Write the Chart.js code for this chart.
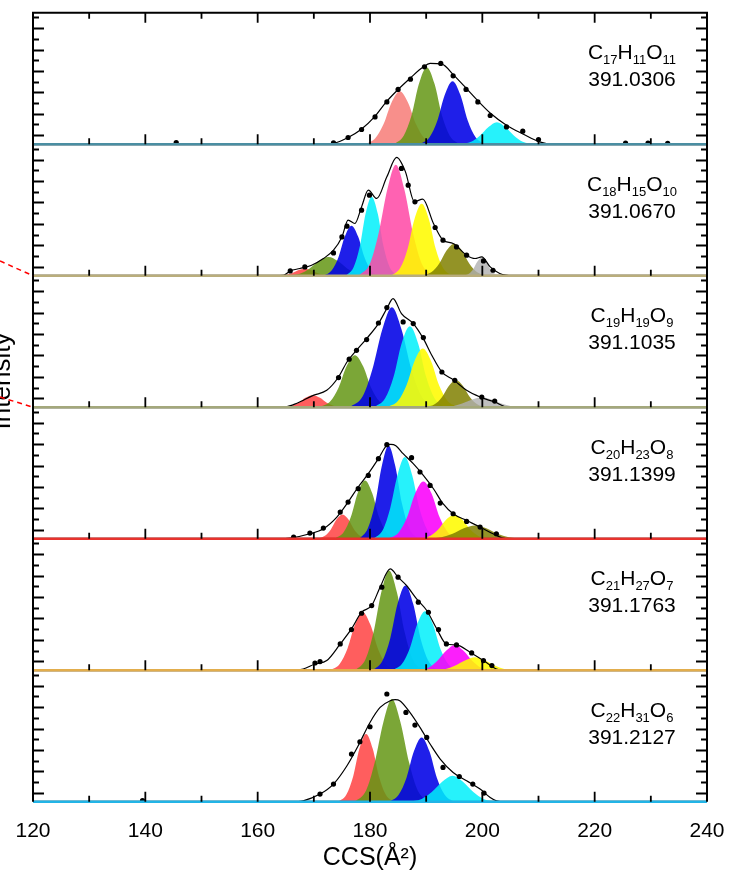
<!DOCTYPE html>
<html lang="en">
<head>
<meta charset="UTF-8" />
<title>CCS distributions</title>
<script src="https://cdn.jsdelivr.net/npm/chart.js"></script>
<style>
  html, body { margin: 0; padding: 0; background: #fff; }
  #wrap { width: 730px; height: 875px; }
</style>
</head>
<body>
<div id="wrap"><canvas id="ccs" width="730" height="875"></canvas></div>
<script>
// ---- labels of the six panels (top to bottom)
const formulas = [
  ["C", "17", "H", "11", "O", "11"],
  ["C", "18", "H", "15", "O", "10"],
  ["C", "19", "H", "19", "O", "9"],
  ["C", "20", "H", "23", "O", "8"],
  ["C", "21", "H", "27", "O", "7"],
  ["C", "22", "H", "31", "O", "6"]
];
const masses = ["391.0306", "391.0670", "391.1035", "391.1399", "391.1763", "391.2127"];

// inner tick marks on the intensity axes (same for every panel)
const yTicks = [9, 19.7, 30.4, 41.1, 51.8, 62.5, 73.2, 83.9, 94.6, 105.3, 116, 126.7];

// ---- panel 1  C17H11O11   [CCS, intensity]
const p1Env = [[120,0],[172.5,0],[173.5,0.7],[176.1,6.7],[178.4,14.7],[180.8,27.3],[182.9,42.3],[185.0,54.7],[187.1,65.7],[189.5,77.3],[190.7,80.7],[192.8,80],[194.9,69],[197.0,56.7],[199.1,44],[201.5,30.7],[204.3,19],[207.3,10],[210.2,2.3],[212.5,0],[240,0]];
const p1Dots = [[145.5,1.5],[173.5,1.3],[176.1,6.7],[178.5,14.7],[180.9,27.3],[183.0,42.3],[185.0,54.7],[187.2,65],[189.7,77.3],[192.6,80.7],[194.8,68.3],[197.1,54.7],[199.2,42.3],[201.4,28.7],[204.3,17.3],[207.2,13],[210.0,4.7],[225.5,1.2],[229.5,1.2],[233,0.8]];
const p1Salmon = [[179.0,0],[180.9,5.8],[182.4,19.9],[183.8,41.3],[185.3,53],[186.8,41.3],[188.2,19.9],[189.7,5.8],[191.6,0]];
const p1Green = [[184.3,0],[186.0,8.5],[187.4,28.9],[188.7,60.1],[190.1,77],[191.5,60.1],[192.8,28.9],[194.2,8.5],[195.9,0]];
const p1Blue = [[188.9,0],[190.6,6.9],[192.0,23.6],[193.3,49.1],[194.7,63],[196.1,49.1],[197.4,23.6],[198.8,6.9],[200.5,0]];
const p1Cyan = [[196.0,0],[198.0,2.4],[199.5,8.3],[201.1,17.2],[202.6,22],[204.1,17.2],[205.7,8.3],[207.2,2.4],[209.2,0]];

// ---- panel 2  C18H15O10
const p2Env = [[120,0],[163,0],[164.6,0.5],[165.8,4.8],[167.5,7.2],[169.6,10.5],[171.7,17.2],[173.5,25.5],[175.0,38.8],[176.1,55.5],[177.3,52.2],[178.5,68.8],[179.7,85.5],[181.2,77.2],[183.0,98.8],[184.75,118.2],[186.3,104],[187.9,74],[189.4,76.5],[191.3,52.2],[193.0,35.5],[194.8,32.2],[197.2,20.5],[198.7,17.2],[199.9,18.8],[201.4,8.8],[203.1,2.2],[205.4,0],[240,0]];
const p2Dots = [[165.8,4.8],[168.4,8.8],[173.5,22.8],[175.0,38.8],[175.9,49.5],[178.5,65.5],[179.9,80.5],[185.6,107.2],[186.8,90.5],[188.0,73.8],[191.6,48.2],[193.0,35.5],[195.4,28.8],[197.2,20.5],[200.2,14.8],[201.9,5.5]];
const p2Red = [[163.5,0],[164.9,0.8],[166.1,2.6],[167.2,5.5],[168.4,7],[169.6,5.5],[170.7,2.6],[171.9,0.8],[173.4,0]];
const p2Green = [[165.3,0],[167.5,2.1],[169.2,7.1],[170.9,14.7],[172.6,18.8],[174.3,14.7],[176.0,7.1],[177.7,2.1],[179.9,0]];
const p2Blue = [[171.8,0],[173.2,5.5],[174.4,18.8],[175.5,39],[176.7,50],[177.9,39],[179.0,18.8],[180.2,5.5],[181.7,0]];
const p2Cyan = [[175.7,0],[177.1,8.7],[178.2,29.6],[179.2,61.6],[180.3,79],[181.4,61.6],[182.4,29.6],[183.5,8.7],[184.9,0]];
const p2Pink = [[178.0,0],[180.0,12.2],[181.5,41.6],[183.1,86.6],[184.6,111],[186.1,86.6],[187.7,41.6],[189.2,12.2],[191.2,0]];
const p2Yellow = [[183.8,0],[185.4,7.9],[186.7,27],[187.9,56.2],[189.2,72],[190.5,56.2],[191.7,27],[193.0,7.9],[194.6,0]];
const p2Olive = [[189.2,0],[190.9,3.5],[192.3,12],[193.6,25],[195.0,32],[196.4,25],[197.7,12],[199.1,3.5],[200.8,0]];
const p2Gray = [[196.6,0],[197.6,2],[198.4,6.8],[199.1,14],[199.9,18],[200.7,14],[201.4,6.8],[202.2,2],[203.2,0]];

// ---- panel 3  C19H19O9
const p3Env = [[120,0],[163,0],[164.9,0.3],[167,4],[169.9,11.9],[172.3,16.9],[174.4,30.2],[175.9,45.2],[177.6,56.9],[179.4,68.6],[181.5,83.6],[183.0,98.6],[184.1,108.6],[185.6,93.6],[187.7,83.6],[189.5,68.6],[191.0,51.9],[192.8,35.2],[194.8,27.6],[197.2,16.9],[199.6,10.2],[202.2,5.2],[204.6,0],[240,0]];
const p3Dots = [[174.4,29.6],[176.3,48],[177.6,56.9],[179.4,67.6],[181.5,84.2],[183.0,99.6],[185.9,85.2],[187.7,83.6],[189.5,69.6],[192.8,35.2],[195.1,26.9],[199.9,10.2],[202.2,6.2]];
const p3Red = [[164.4,0],[166.0,1.3],[167.3,4.5],[168.5,9.4],[169.8,12],[171.1,9.4],[172.3,4.5],[173.6,1.3],[175.2,0]];
const p3Green = [[171.0,0],[172.9,5.7],[174.4,19.5],[175.8,40.6],[177.3,52],[178.8,40.6],[180.2,19.5],[181.7,5.7],[183.6,0]];
const p3Blue = [[176.4,0],[178.7,11],[180.4,37.5],[182.2,78],[183.9,100],[185.6,78],[187.4,37.5],[189.2,11],[191.4,0]];
const p3Cyan = [[180.8,0],[182.7,8.9],[184.2,30.4],[185.6,63.2],[187.1,81],[188.6,63.2],[190.0,30.4],[191.5,8.9],[193.4,0]];
const p3Yellow = [[183.1,0],[185.0,6.4],[186.5,22],[187.9,45.7],[189.4,58.6],[190.9,45.7],[192.3,22],[193.8,6.4],[195.7,0]];
const p3Olive = [[189.9,0],[191.5,3],[192.8,10.1],[194.0,21.1],[195.3,27],[196.6,21.1],[197.8,10.1],[199.1,3],[200.7,0]];
const p3Gray = [[192.4,0],[194.7,1.1],[196.4,3.8],[198.2,7.8],[199.9,10],[201.6,7.8],[203.4,3.8],[205.2,1.1],[207.4,0]];

// ---- panel 4  C20H23O8
const p4Env = [[120,0],[164,0],[165.8,0.7],[169.3,5],[171.7,10],[174.1,21.7],[176.1,36.7],[177.9,51.7],[179.7,65],[181.5,80],[183.0,93.3],[183.7,94.3],[184.6,93],[185.9,85],[187.7,75],[189.5,63.3],[191.3,50],[193.0,35],[194.8,25],[197.2,18.3],[199.6,11.7],[201.9,5],[204.3,0],[240,0]];
const p4Dots = [[166.4,1.7],[169.3,5.7],[171.7,10.7],[174.7,26.7],[176.1,36.7],[177.9,50],[179.7,63.3],[181.5,80],[183.0,94],[187.4,81],[188.9,66.7],[190.7,53.3],[192.5,35.7],[194.8,25],[197.2,17.3],[199.6,11.7],[202.5,5]];
const p4Red = [[170.5,0],[171.9,2.7],[173.0,9.1],[174.0,19],[175.1,24.3],[176.2,19],[177.2,9.1],[178.3,2.7],[179.7,0]];
const p4Green = [[173.7,0],[175.3,6.4],[176.6,21.9],[177.8,45.5],[179.1,58.3],[180.4,45.5],[181.6,21.9],[182.9,6.4],[184.5,0]];
const p4Blue = [[178.1,0],[179.6,10.3],[180.9,35],[182.1,72.8],[183.3,93.3],[184.5,72.8],[185.7,35],[187.0,10.3],[188.6,0]];
const p4Cyan = [[180.6,0],[182.3,9],[183.6,30.6],[184.9,63.7],[186.2,81.7],[187.5,63.7],[188.8,30.6],[190.2,9],[191.8,0]];
const p4Magenta = [[183.2,0],[185.1,6.3],[186.6,21.5],[188.0,44.7],[189.5,57.3],[191.0,44.7],[192.4,21.5],[193.9,6.3],[195.8,0]];
const p4Yellow = [[188.7,0],[190.6,2.6],[192.1,9],[193.5,18.7],[195.0,24],[196.5,18.7],[197.9,9],[199.4,2.6],[201.3,0]];
const p4Olive = [[190.1,0],[192.7,1.5],[194.7,5],[196.7,10.4],[198.7,13.3],[200.7,10.4],[202.7,5],[204.7,1.5],[207.3,0]];

// ---- panel 5  C21H27O7
const p5Env = [[120,0],[166,0],[168.1,1.3],[170.2,6.3],[172.3,9.7],[174.7,26.3],[176.7,41.3],[178.5,58],[180.3,64.7],[181.8,83],[183.6,101.3],[185.0,93],[186.5,84.7],[188.3,71.3],[190.1,59.7],[191.9,41.3],[193.6,26.3],[195.4,25.3],[197.8,18],[200.2,9.7],[202.5,1.3],[204,0],[240,0]];
const p5Dots = [[170.2,7.3],[171.1,8.7],[174.7,26.3],[176.7,40.7],[178.5,57],[180.3,64.7],[182.1,83],[185.0,93],[188.6,68],[190.4,58],[192.2,40.7],[193.6,26.3],[195.4,25.3],[198.1,17.3],[200.2,9.7],[201.7,4.7]];
const p5Red = [[172.9,0],[174.6,6.4],[176.0,21.8],[177.3,45.2],[178.7,58],[180.1,45.2],[181.4,21.8],[182.8,6.4],[184.5,0]];
const p5Green = [[177.4,0],[179.2,11],[180.6,37.4],[182.0,77.8],[183.4,99.7],[184.8,77.8],[186.2,37.4],[187.6,11],[189.4,0]];
const p5Blue = [[180.5,0],[182.2,9.3],[183.6,31.8],[184.9,66.1],[186.3,84.7],[187.7,66.1],[189.0,31.8],[190.4,9.3],[192.1,0]];
const p5Cyan = [[184.0,0],[185.7,6.5],[187.1,22.1],[188.4,46],[189.8,59],[191.2,46],[192.5,22.1],[193.9,6.5],[195.6,0]];
const p5Magenta = [[188.5,0],[190.5,2.8],[192.0,9.5],[193.6,19.7],[195.1,25.3],[196.6,19.7],[198.2,9.5],[199.7,2.8],[201.7,0]];
const p5Yellow = [[191.2,0],[193.5,1.4],[195.2,4.9],[197.0,10.1],[198.7,13],[200.4,10.1],[202.2,4.9],[203.9,1.4],[206.2,0]];

// ---- panel 6  C22H31O6
const p6Env = [[120,0],[166,0],[168.1,1],[171.1,7.7],[173.5,17.7],[175.9,36],[177.9,56],[180,79.3],[181.8,94.3],[183.6,101],[184.5,102],[185.3,101],[187.1,89.3],[188.9,74.3],[190.7,57.7],[192.5,42.7],[194.8,29.3],[197.2,21],[199.6,12.7],[201.4,4.3],[202.5,1],[204,0],[240,0]];
const p6Dots = [[139.5,1.2],[171.1,7.7],[173.5,17.7],[176.7,47.7],[178.2,60],[180,75],[183.0,107.7],[186.4,89.3],[188.0,76.7],[190.1,64.3],[193.0,34.3],[195.9,25.3],[198.3,17.7],[200.3,8.7]];
const p6Red = [[174.3,0],[175.8,7.4],[177.0,25.4],[178.1,52.8],[179.3,67.7],[180.5,52.8],[181.6,25.4],[182.8,7.4],[184.3,0]];
const p6Green = [[177.3,0],[179.3,11.3],[180.8,38.5],[182.4,80.1],[183.9,102.7],[185.4,80.1],[187.0,38.5],[188.5,11.3],[190.5,0]];
const p6Blue = [[183.4,0],[185.1,7.1],[186.5,24.1],[187.8,50.2],[189.2,64.3],[190.6,50.2],[191.9,24.1],[193.3,7.1],[195.0,0]];
const p6Cyan = [[186.8,0],[189.2,2.9],[191.0,9.8],[192.9,20.3],[194.7,26],[196.5,20.3],[198.4,9.8],[200.2,2.9],[202.6,0]];

// ---- colours
const SALMON = "rgba(245,95,90,0.7)";
const RED = "rgba(255,40,40,0.75)";
const GREEN = "rgba(100,150,20,0.85)";
const BLUE = "rgba(0,0,230,0.88)";
const CYAN = "rgba(0,240,250,0.85)";
const PINK = "rgba(255,70,165,0.85)";
const MAGENTA = "rgba(250,0,250,0.88)";
const YELLOW = "rgba(255,250,0,0.88)";
const OLIVE = "rgba(128,128,0,0.85)";
const GRAY = "rgba(175,175,175,0.8)";
const baseColors = ["#4a8ea2", "#b9ad7c", "#a4a87c", "#e8332e", "#e2ad4c", "#22b4e6"];

const panels = [
  { env: p1Env, dots: p1Dots, peaks: [[p1Salmon, SALMON], [p1Green, GREEN], [p1Blue, BLUE], [p1Cyan, CYAN]] },
  { env: p2Env, dots: p2Dots, peaks: [[p2Red, RED], [p2Green, GREEN], [p2Blue, BLUE], [p2Cyan, CYAN], [p2Pink, PINK], [p2Yellow, YELLOW], [p2Olive, OLIVE], [p2Gray, GRAY]] },
  { env: p3Env, dots: p3Dots, peaks: [[p3Red, RED], [p3Green, GREEN], [p3Blue, BLUE], [p3Cyan, CYAN], [p3Yellow, YELLOW], [p3Olive, OLIVE], [p3Gray, GRAY]] },
  { env: p4Env, dots: p4Dots, peaks: [[p4Red, RED], [p4Green, GREEN], [p4Blue, BLUE], [p4Cyan, CYAN], [p4Magenta, MAGENTA], [p4Yellow, YELLOW], [p4Olive, OLIVE]] },
  { env: p5Env, dots: p5Dots, peaks: [[p5Red, RED], [p5Green, GREEN], [p5Blue, BLUE], [p5Cyan, CYAN], [p5Magenta, MAGENTA], [p5Yellow, YELLOW]] },
  { env: p6Env, dots: p6Dots, peaks: [[p6Red, RED], [p6Green, GREEN], [p6Blue, BLUE], [p6Cyan, CYAN]] }
];

const FONT = "'Liberation Sans', Arial, sans-serif";
Chart.defaults.font.family = FONT;
Chart.defaults.color = "#000";

// build datasets, later ones are drawn on top
const datasets = [];
panels.forEach((p, i) => {
  const yID = "y" + (i + 1);
  p.peaks.forEach(([pts, col]) => {
    datasets.push({
      data: pts, yAxisID: yID, backgroundColor: col, borderWidth: 0,
      fill: "origin", pointRadius: 0, cubicInterpolationMode: "monotone"
    });
  });
  datasets.push({
    data: p.env, yAxisID: yID, borderColor: "#000", borderWidth: 1.2,
    fill: false, pointRadius: 0, cubicInterpolationMode: "monotone"
  });
  datasets.push({
    data: p.dots, yAxisID: yID, showLine: false, pointRadius: 2.6,
    pointBackgroundColor: "#000", pointBorderWidth: 0
  });
  datasets.push({
    data: [[120, 0], [240, 0]], yAxisID: yID, borderColor: baseColors[i],
    borderWidth: 2.5, pointRadius: 0, fill: false, clip: false
  });
});
datasets.forEach((d, k) => { d.order = -k; });

// stacked intensity axes; defined bottom panel first so panel 1 ends on top
const scales = {
  x: {
    type: "linear", min: 120, max: 240, position: "bottom",
    grid: { display: false, drawTicks: false }, border: { display: false },
    ticks: { stepSize: 20, font: { size: 21 }, color: "#000", padding: 17, maxRotation: 0, autoSkip: false },
    title: { display: true, text: "CCS(Å²)", font: { size: 25 }, color: "#000", padding: { top: -18, bottom: 2 } },
    afterFit(scale) { scale.paddingLeft = 0; scale.paddingRight = 0; }
  }
};
for (let i = 6; i >= 1; i--) {
  scales["y" + i] = {
    type: "linear", position: "left", stack: "panels", stackWeight: 1, weight: 7 - i,
    min: 0, max: 131.4, display: false
  };
}

const framePlugin = {
  id: "frame",
  beforeDatasetsDraw(chart) {
    const { ctx, chartArea: a, scales: s } = chart;
    ctx.save();
    ctx.strokeStyle = "#000";
    ctx.lineWidth = 2;
    for (let i = 1; i <= 6; i++) {
      const y = s["y" + i].getPixelForValue(0);
      ctx.beginPath();
      ctx.moveTo(a.left, y);
      ctx.lineTo(a.right, y);
      ctx.stroke();
    }
    ctx.restore();
  },
  afterDatasetsDraw(chart) {
    const { ctx, chartArea: a, scales: s } = chart;
    ctx.save();
    ctx.strokeStyle = "#000";
    ctx.lineWidth = 2;
    ctx.beginPath();
    ctx.moveTo(a.left, a.bottom);
    ctx.lineTo(a.left, a.top);
    ctx.lineTo(a.right, a.top);
    ctx.lineTo(a.right, a.bottom);
    ctx.stroke();

    ctx.lineWidth = 1.8;
    ctx.beginPath();
    // CCS ticks: top of the stack and bottom of every panel, pointing inwards
    for (let v = s.x.min + 10; v < s.x.max; v += 10) {
      const px = s.x.getPixelForValue(v);
      const len = v % 20 === 0 ? 10 : 6;
      ctx.moveTo(px, a.top);
      ctx.lineTo(px, a.top + len);
      for (let i = 1; i <= 6; i++) {
        const y = s["y" + i].getPixelForValue(0);
        ctx.moveTo(px, y);
        ctx.lineTo(px, y - len);
      }
    }
    // intensity ticks left and right
    for (let i = 1; i <= 6; i++) {
      const ys = s["y" + i];
      yTicks.forEach((t, k) => {
        const py = Math.round(ys.getPixelForValue(t)) + 0.5;
        const len = k % 2 === 0 ? 11 : 6;
        ctx.moveTo(a.left, py);
        ctx.lineTo(a.left + len, py);
        ctx.moveTo(a.right, py);
        ctx.lineTo(a.right - len, py);
      });
    }
    ctx.stroke();
    ctx.restore();
  },
  afterDraw(chart) {
    const { ctx, chartArea: a, scales: s } = chart;
    ctx.save();
    ctx.fillStyle = "#000";
    ctx.textBaseline = "alphabetic";
    const cx = a.right - 75;
    for (let i = 1; i <= 6; i++) {
      const top = s["y" + i].top;
      // formula with subscripts
      const parts = formulas[i - 1];
      const big = "21px " + FONT, small = "13px " + FONT;
      let w = 0;
      parts.forEach((t, k) => { ctx.font = k % 2 ? small : big; w += ctx.measureText(t).width; });
      let x = cx - w / 2;
      parts.forEach((t, k) => {
        ctx.font = k % 2 ? small : big;
        ctx.fillText(t, x, top + (k % 2 ? 51.5 : 46.5));
        x += ctx.measureText(t).width;
      });
      ctx.font = big;
      ctx.textAlign = "center";
      ctx.fillText(masses[i - 1], cx, top + 73.5);
      ctx.textAlign = "left";
    }

    // cut-off axis title on the far left
    ctx.save();
    ctx.translate(10, 381);
    ctx.rotate(-Math.PI / 2);
    ctx.font = "26px " + FONT;
    ctx.textAlign = "center";
    ctx.fillText("Intensity", 0, 0);
    ctx.restore();

    // red dashed guide lines coming from the left
    ctx.strokeStyle = "#f00";
    ctx.lineWidth = 1.5;
    ctx.setLineDash([5, 4]);
    ctx.beginPath();
    ctx.moveTo(0, 261);
    ctx.lineTo(a.left, s.y2.getPixelForValue(0));
    ctx.moveTo(0, 397);
    ctx.lineTo(a.left, s.y3.getPixelForValue(0));
    ctx.stroke();
    ctx.restore();
  }
};

new Chart(document.getElementById("ccs"), {
  type: "line",
  data: { datasets: datasets },
  options: {
    responsive: false,
    animation: false,
    devicePixelRatio: 1,
    layout: { padding: { left: 33, right: 23, top: 12.7, bottom: 0 } },
    plugins: { legend: { display: false }, tooltip: { enabled: false } },
    scales: scales
  },
  plugins: [framePlugin]
});
</script>
</body>
</html>
